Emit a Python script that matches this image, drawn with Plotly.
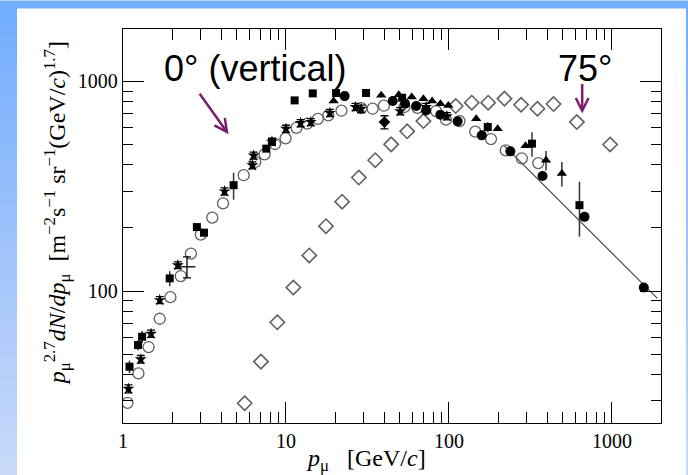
import plotly.graph_objects as go

# ---- muon spectrum data: p (GeV/c) and p^2.7 dN/dp ----
# 0 deg, reference compilation (open circles)
vert_p = [1.066, 1.243, 1.435, 1.68, 1.954, 2.26, 2.61, 3.0, 3.53, 4.11, 5.5, 6.48,
          7.39, 8.57, 9.94, 11.6, 13.5, 15.7, 18.2, 21.9, 29.0, 34.0, 39.9, 53.3,
          64.0, 83.4, 95.9, 116, 145, 181, 223, 280, 353]
vert_v = [29.3, 40.5, 54.1, 73.8, 93.6, 118, 151, 186, 224, 262, 357, 413,
          449, 503, 535, 601, 629, 663, 689, 725, 746, 741, 766, 755,
          748, 722, 657, 647, 576, 531, 469, 430, 408]

# 75 deg (open diamonds)
incl_p = [5.58, 7.02, 8.85, 11.1, 13.9, 17.6, 22.1, 28.0, 35.3, 44.2, 55.4, 69.7,
          110, 138, 174, 219, 277, 349, 438, 609, 975]
incl_v = [29.2, 46.1, 71, 104, 148, 204, 267, 348, 421, 501, 578, 647,
          763, 792, 792, 828, 774, 741, 780, 640, 500]

# filled circles
circ_p = [22.9, 45.2, 53.8, 62.9, 72.4, 88.6, 113, 159, 238, 375, 679, 1568]
circ_v = [851, 806, 783, 763, 727, 694, 645, 553, 464, 354, 226, 104]

# filled squares with errors
sq_p = [1.096, 1.237, 1.31, 1.935, 2.84, 3.14, 4.77, 7.57, 8.2, 11.3, 14.6, 20.3,
        31.0, 51.6, 173, 323, 632]
sq_v = [43.6, 55.3, 60.6, 115, 202, 190, 320, 478, 514, 812, 877, 880,
        881, 836, 606, 505, 257]
sq_e = [3, 3, 4, 9.5, 8, 8, 47, 12, 12, 0, 0, 0, 0, 0, 33, 68, 75]

# filled triangles with errors
tri_p = [19.6, 38.4, 49.2, 59.1, 69.7, 78.8, 88.6, 99.1, 147, 199, 295, 394, 493]
tri_v = [806, 858, 864, 842, 827, 806, 783, 768, 664, 595, 493, 421, 364]
tri_e = [0, 0, 0, 0, 0, 0, 0, 0, 0, 0, 0, 45, 49]

# filled stars with small errors
star_p = [1.08, 1.285, 1.486, 1.68, 2.17, 4.2, 6.22, 6.33, 8.2, 10.0, 12.3, 14.2,
          18.6, 26.7, 28.9, 50.2, 72.4, 97.1]
star_v = [34.2, 47.3, 62.6, 90.6, 133, 299, 398, 443, 516, 595, 633, 640,
          708, 755, 741, 721, 755, 683]
star_e = [1.5, 2, 2.5, 3.5, 5, 12, 15, 17, 20, 23, 25, 25,
          28, 30, 30, 29, 30, 27]

# crosses with error bars
cross_p = [2.47]
cross_v = [130.6]
cross_e = [15]

# filled diamond with error bar
dia_p = [40.2]
dia_v = [640]
dia_e = [46]

# fitted power-law line at high momentum
fit_p = [218, 1900]
fit_v = [495, 92.3]

x_ticks = [1, 10, 100, 1000]
x_tick_text = ["1", "10", "100", "1000"]
y_ticks = [100, 1000]
y_tick_text = ["100", "1000"]
x_minor = [m * d for d in [1, 10, 100, 1000] for m in range(2, 10) if m * d <= 2000]
y_minor = [m * d for d in [10, 100, 1000] for m in range(2, 10) if 23 <= m * d <= 1780]

fig = go.Figure()

fig.add_trace(go.Scatter(x=fit_p, y=fit_v, mode="lines",
                         line=dict(color="#555555", width=1.3), hoverinfo="skip"))

fig.add_trace(go.Scatter(x=incl_p, y=incl_v, mode="markers",
                         marker=dict(symbol="diamond-open", size=11, color="#606060",
                                     line=dict(color="#606060", width=1.6))))

fig.add_trace(go.Scatter(x=vert_p, y=vert_v, mode="markers",
                         marker=dict(symbol="circle-open", size=11, color="#606060",
                                     line=dict(color="#606060", width=1.3))))

err_style = dict(type="data", color="black", thickness=1.3, width=4)

fig.add_trace(go.Scatter(x=star_p, y=star_v, mode="markers",
                         error_y=dict(array=star_e, **err_style),
                         marker=dict(symbol="star", size=9, color="black")))

fig.add_trace(go.Scatter(x=cross_p, y=cross_v, mode="markers",
                         error_y=dict(array=cross_e, **err_style),
                         marker=dict(symbol="line-ew", size=12, color="black",
                                     line=dict(color="black", width=1.3))))

fig.add_trace(go.Scatter(x=sq_p, y=sq_v, mode="markers",
                         error_y=dict(array=sq_e, type="data", color="#333333",
                                      thickness=1.5, width=0),
                         marker=dict(symbol="square", size=8, color="black")))

fig.add_trace(go.Scatter(x=tri_p, y=tri_v, mode="markers",
                         error_y=dict(array=tri_e, type="data", color="#333333",
                                      thickness=1.5, width=0),
                         marker=dict(symbol="triangle-up", size=9, color="black")))

fig.add_trace(go.Scatter(x=dia_p, y=dia_v, mode="markers",
                         error_y=dict(array=dia_e, **err_style),
                         marker=dict(symbol="diamond", size=9, color="black")))

fig.add_trace(go.Scatter(x=circ_p, y=circ_v, mode="markers",
                         marker=dict(symbol="circle", size=10, color="black")))

# background: blue frame with vertical gradient on the left edge, white panel
shapes = []
top_rgb = (0x72, 0xAD, 0xFF)
bot_rgb = (0xC8, 0xD9, 0xF8)
n_band = 40
W, H = 688.0, 475.0
L, R, T, B = 123.0, 27.0, 28.5, 52.0
pw, ph = W - L - R, H - T - B


def px_to_paper(xp, yp):
    return (xp - L) / pw, 1 - (yp - T) / ph


for i in range(n_band):
    f = i / (n_band - 1)
    c = tuple(int(round(top_rgb[k] + (bot_rgb[k] - top_rgb[k]) * f)) for k in range(3))
    x0, y0 = px_to_paper(0, H * i / n_band)
    x1, y1 = px_to_paper(W, H * (i + 1) / n_band + 1)
    shapes.append(dict(type="rect", xref="paper", yref="paper", layer="below",
                       x0=x0, x1=x1, y0=y1, y1=y0, line=dict(width=0),
                       fillcolor="rgb(%d,%d,%d)" % c))
wx0, wy0 = px_to_paper(17, 8)
wx1, wy1 = px_to_paper(686, H + 2)
shapes.append(dict(type="rect", xref="paper", yref="paper", layer="below",
                   x0=wx0, x1=wx1, y0=wy1, y1=wy0, line=dict(width=0),
                   fillcolor="white"))

serif = "Liberation Serif"
sans = "Liberation Sans"
purple = "#7A1E6E"

ytx, yty = px_to_paper(57, 213)
xtx, xty = px_to_paper(366, 460)
t0x, t0y = px_to_paper(255, 68)
t1x, t1y = px_to_paper(585, 68)

centered = dict(xref="paper", yref="paper", showarrow=False,
                xanchor="center", yanchor="middle")

annotations = [
    dict(x=ytx, y=yty, textangle=-90,
         text="<i>p</i><sub>μ</sub><sup>2.7</sup><i>dN</i>/<i>dp</i><sub>μ</sub>  "
              "[m<sup>−2</sup>s<sup>−1</sup> sr<sup>−1</sup>(GeV/<i>c</i>)<sup>1.7</sup>]",
         font=dict(family=serif, size=24, color="black"), **centered),
    dict(x=xtx, y=xty, text="<i>p</i><sub>μ</sub>   [GeV/<i>c</i>]",
         font=dict(family=serif, size=24, color="black"), **centered),
    dict(x=t0x, y=t0y, text="0° (vertical)",
         font=dict(family=sans, size=36, color="black"), **centered),
    dict(x=t1x, y=t1y, text="75°",
         font=dict(family=sans, size=36, color="black"), **centered),
    dict(x=0.648, y=2.748, xref="x", yref="y", text="", showarrow=True,
         ax=-30, ay=-42, arrowhead=5, arrowsize=1, arrowwidth=2.5, arrowcolor=purple),
    dict(x=2.8174, y=2.8476, xref="x", yref="y", text="", showarrow=True,
         ax=0, ay=-31, arrowhead=5, arrowsize=1, arrowwidth=2.5, arrowcolor=purple),
]

axis_common = dict(type="log", showline=True, linecolor="black", linewidth=1.3,
                   mirror="ticks", ticks="inside", ticklen=21, tickwidth=1.3,
                   tickcolor="black", showgrid=False, zeroline=False,
                   tickfont=dict(family=serif, size=20, color="black"))

fig.update_xaxes(range=[0, 3.301], tickmode="array", tickvals=x_ticks,
                 ticktext=x_tick_text,
                 minor=dict(ticks="inside", ticklen=11, tickwidth=1.3,
                            tickcolor="black", tickmode="array", tickvals=x_minor,
                            showgrid=False),
                 **axis_common)
fig.update_yaxes(range=[1.371, 3.25], tickmode="array", tickvals=y_ticks,
                 ticktext=y_tick_text,
                 minor=dict(ticks="inside", ticklen=10, tickwidth=1.3,
                            tickcolor="black", tickmode="array", tickvals=y_minor,
                            showgrid=False),
                 **axis_common)

fig.update_layout(width=688, height=475, showlegend=False,
                  margin=dict(l=L, r=R, t=T, b=B, pad=0),
                  paper_bgcolor="white", plot_bgcolor="rgba(0,0,0,0)",
                  shapes=shapes, annotations=annotations)

fig.write_html("out.html")
